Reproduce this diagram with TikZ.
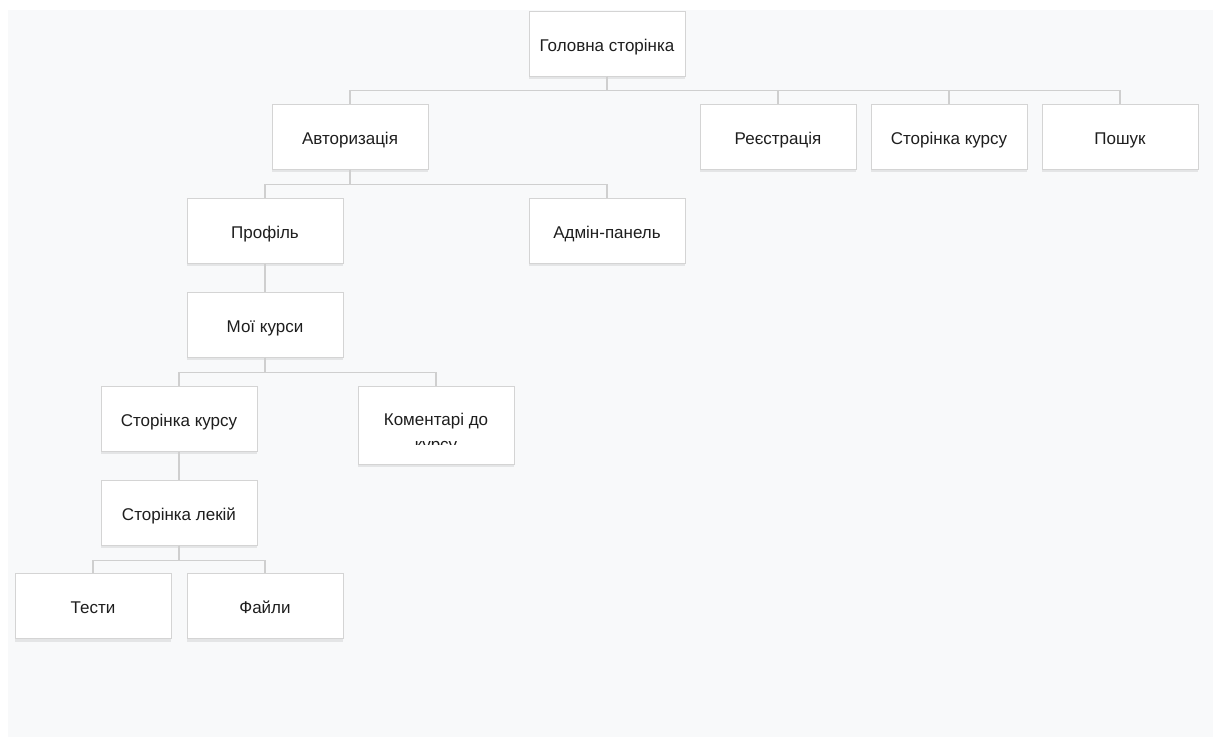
\documentclass[tikz,border=0pt]{standalone}
\usepackage{fontspec}
\setmainfont{Liberation Sans}
\usetikzlibrary{shadows}

\definecolor{pagebg}{HTML}{F8F9FA}
\definecolor{boxline}{HTML}{D4D4D4}
\definecolor{linkline}{HTML}{CFCFCF}
\definecolor{labeltext}{HTML}{1E1E1E}

\begin{document}
\begin{tikzpicture}[x=1pt,y=-1pt,
    link/.style={draw=linkline, line width=1.4pt}]

        \useasboundingbox (0,0) rectangle (1218,737);
        \fill[pagebg] (8,10) rectangle (1213,737);

        \begin{scope}[every node/.style={rectangle, draw=boxline, line width=1pt, fill=white,
            minimum width=156pt, minimum height=65pt, inner sep=0pt,
            text=labeltext, font=\fontsize{17}{20}\selectfont,
            text height=15pt, text depth=0pt,
            drop shadow={shadow xshift=0pt, shadow yshift=-3pt, opacity=0.08, fill=black}}]
          \node (home)    at (607,43.5)  {Головна сторінка};
          \node (login)   at (350,136.5) {Авторизація};
          \node (signup)  at (778,136.5) {Реєстрація};
          \node (course)  at (949,136.5) {Сторінка курсу};
          \node (search)  at (1120,136.5) {Пошук};
          \node (profile) at (265,230.5) {Профіль};
          \node (admin)   at (607,230.5) {Адмін-панель};
          \node (mine)    at (265,324.5) {Мої курси};
          \node (mycourse) at (179,418.5) {Сторінка курсу};
          \node[minimum height=78pt] (comments) at (436,425) {};
          \node (lessons) at (179,512.5) {Сторінка лекій};
          \node (tests)   at (93,606)    {Тести};
          \node (files)   at (265,606)   {Файли};
        \end{scope}

        % text of the comments box is cut off at the bottom
        \begin{scope}[every node/.style={text=labeltext, font=\fontsize{17}{20}\selectfont, anchor=base, inner sep=0pt}]
          \clip (358,386) rectangle (514,444);
          \node (comline1) at (436,425) {Коментарі до};
          \node (comline2) at (436,450) {курсу};
        \end{scope}

        \begin{scope}[every path/.style={link}]
          \draw (home.south) -- ++(0,14) -| (login.north);
          \draw (home.south) -- ++(0,14) -| (signup.north);
          \draw (home.south) -- ++(0,14) -| (course.north);
          \draw (home.south) -- ++(0,14) -| (search.north);
          \draw (login.south) -- ++(0,15) -| (profile.north);
          \draw (login.south) -- ++(0,15) -| (admin.north);
          \draw (profile.south) -- (mine.north);
          \draw (mine.south) -- ++(0,15) -| (mycourse.north);
          \draw (mine.south) -- ++(0,15) -| (comments.north);
          \draw (mycourse.south) -- (lessons.north);
          \draw (lessons.south) -- ++(0,15) -| (tests.north);
          \draw (lessons.south) -- ++(0,15) -| (files.north);
        \end{scope}

      \end{tikzpicture}
\end{document}
